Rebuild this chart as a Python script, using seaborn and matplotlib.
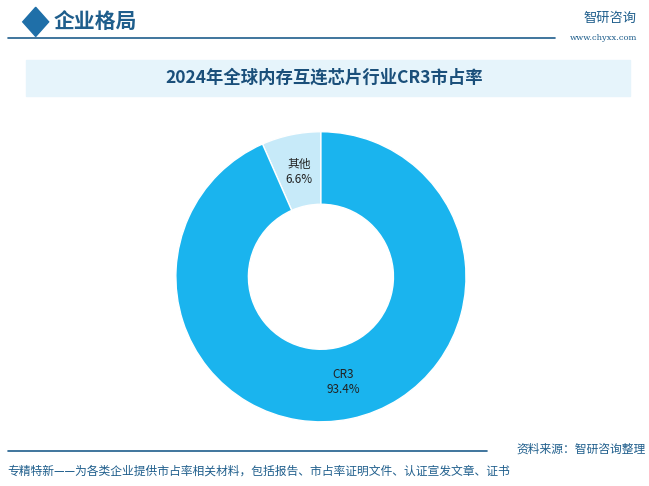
import matplotlib
matplotlib.use("Agg")
import matplotlib.pyplot as plt
import seaborn as sns
from matplotlib.patches import Rectangle, Polygon

sns.set_theme(style="white")
plt.rcParams['font.family'] = ['Noto Sans CJK SC', 'DejaVu Sans']

categories = ["其他", "CR3"]
values = [6.6, 93.4]
colors = ["#C7EAF9", "#1AB4EE"]
title = "2024年全球内存互连芯片行业CR3市占率"

fig = plt.figure(figsize=(6.49, 4.86), dpi=100)
fig.patch.set_facecolor("white")

# header
fig.text(0.083, 0.955, "企业格局", fontsize=15, color="#1F5E8C", va="center", fontweight="bold")
fig.patches.append(Polygon([[0.035, 0.955], [0.055, 0.985], [0.075, 0.955], [0.055, 0.925]],
                           closed=True, transform=fig.transFigure, color="#1F6FA8"))
fig.add_artist(plt.Line2D([0.012, 0.855], [0.921, 0.921], transform=fig.transFigure, color="#1F5E8C", lw=1.2))
fig.text(0.94, 0.963, "智研咨询", fontsize=9.5, color="#1F5E8C", ha="center", va="center")
fig.text(0.93, 0.922, "www.chyxx.com", fontsize=6, color="#1F5E8C", ha="center", va="center", family="DejaVu Serif")

# title band
fig.patches.append(Rectangle((0.04, 0.803), 0.93, 0.074, transform=fig.transFigure, color="#E6F4FB", zorder=0))
fig.text(0.5, 0.84, title, fontsize=12.5, color="#1A4F7A", ha="center", va="center", fontweight="bold")

# footer
fig.add_artist(plt.Line2D([0.012, 0.75], [0.072, 0.072], transform=fig.transFigure, color="#1F5E8C", lw=1.2))
fig.text(0.995, 0.075, "资料来源：智研咨询整理", fontsize=8.5, color="#1F5E8C", ha="right", va="center")
fig.text(0.012, 0.031, "专精特新——为各类企业提供市占率相关材料，包括报告、市占率证明文件、认证宣发文章、证书",
         fontsize=8.5, color="#1F5E8C", ha="left", va="center")

ax = fig.add_axes([0.271, 0.132, 0.447, 0.597])
labels = [f"{c}\n{v}%" for c, v in zip(categories, values)]
wedges, texts = ax.pie(values, colors=colors, startangle=90, counterclock=True,
                       labels=labels, labeldistance=0.74,
                       wedgeprops=dict(width=0.5, edgecolor="white", linewidth=1),
                       textprops=dict(fontsize=8.5, color="#222222", ha="center", va="center"))
ax.set_xlim(-1, 1)
ax.set_ylim(-1, 1)
ax.set_aspect("equal")

fig.savefig("out.png", dpi=100)
